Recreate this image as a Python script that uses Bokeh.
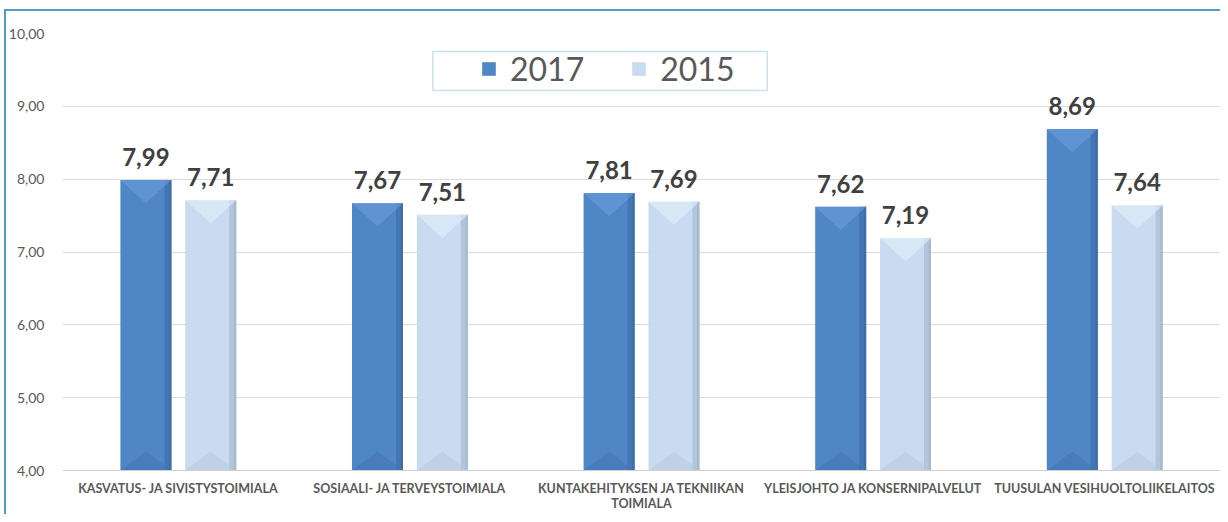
from bokeh.plotting import figure
from bokeh.models import (Range1d, FixedTicker, Legend, LegendItem, BoxAnnotation,
                          ColumnDataSource)
from bokeh.core.properties import value
from bokeh.embed import file_html
from bokeh.resources import INLINE

# ---- data ----
categories = [
    "KASVATUS- JA SIVISTYSTOIMIALA",
    "SOSIAALI- JA TERVEYSTOIMIALA",
    "KUNTAKEHITYKSEN JA TEKNIIKAN\nTOIMIALA",
    "YLEISJOHTO JA KONSERNIPALVELUT",
    "TUUSULAN VESIHUOLTOLIIKELAITOS",
]
series_names = ["2017", "2015"]
values_2017 = [7.99, 7.67, 7.81, 7.62, 8.69]
values_2015 = [7.71, 7.51, 7.69, 7.19, 7.64]
y_ticks = [4, 5, 6, 7, 8, 9, 10]
y_tick_labels = ["4,00", "5,00", "6,00", "7,00", "8,00", "9,00", "10,00"]

# ---- style ----
FONT = "Lato"
TXT = "#595959"
TEAL = "#4A9FC2"
Y0 = 4
BAR_W = 0.22
OFFS = [-0.14, 0.14]
BEVEL = 0.32
STYLES = [
    dict(main="#4F86C6", edge="#3E6DA6", top="#6B9CD9", bottom="#4171AE"),
    dict(main="#C8DBF1", edge="#A3B6CD", top="#E2EEFA", bottom="#B4C7DE"),
]

p = figure(width=1220, height=514, output_backend="svg", toolbar_location=None,
           x_range=Range1d(0, len(categories)), y_range=Range1d(4, 10),
           min_border_left=62, min_border_top=33, min_border_bottom=43,
           min_border_right=0)
p.styles = {
    "background": (f"linear-gradient({TEAL},{TEAL}) 4px 9px / 2px 600px no-repeat, "
                   f"linear-gradient({TEAL},{TEAL}) 4px 9px / 1400px 2px no-repeat, white")
}
p.outline_line_color = None
p.background_fill_color = "white"
p.border_fill_color = None

# axes
p.yaxis.ticker = FixedTicker(ticks=y_ticks)
p.yaxis.major_label_overrides = {t: l for t, l in zip(y_ticks, y_tick_labels)}
p.yaxis.axis_line_color = None
p.yaxis.major_tick_line_color = None
p.yaxis.minor_tick_line_color = None
p.yaxis.major_label_text_font = FONT
p.yaxis.major_label_text_font_size = "14px"
p.yaxis.major_label_text_color = TXT
p.yaxis.major_label_standoff = 12

centers = [i + 0.5 for i in range(len(categories))]
p.xaxis.ticker = FixedTicker(ticks=centers)
p.xaxis.major_label_overrides = {c: lab for c, lab in zip(centers, categories)}
p.xaxis.axis_line_color = "#D0D0D0"
p.xaxis.major_tick_line_color = None
p.xaxis.minor_tick_line_color = None
p.xaxis.major_tick_out = 0
p.xaxis.major_tick_in = 0
p.xaxis.major_label_text_font = FONT
p.xaxis.major_label_text_font_size = "12.5px"
p.xaxis.major_label_text_font_style = "bold"
p.xaxis.major_label_text_color = TXT
p.xaxis.major_label_text_line_height = 1.05
p.xaxis.major_label_standoff = 10

p.xgrid.grid_line_color = None
p.ygrid.grid_line_color = "#DCDCDC"
p.ygrid.ticker = FixedTicker(ticks=y_ticks[1:])

legend_items = []
for k, vals in enumerate([values_2017, values_2015]):
    st = STYLES[k]
    xs = [c + OFFS[k] for c in centers]
    src = ColumnDataSource(dict(x=xs, top=vals,
                                lab=[f"{v:.2f}".replace(".", ",") for v in vals]))
    main = p.vbar(x="x", top="top", bottom=Y0, width=BAR_W, source=src,
                  fill_color=st["main"], line_color=None)
    # right edge shading
    p.vbar(x=[x + BAR_W / 2 - 0.015 for x in xs], top=vals, bottom=Y0, width=0.03,
           fill_color=st["edge"], line_color=None, fill_alpha=0.6)
    p.vbar(x=[x + BAR_W / 2 - 0.005 for x in xs], top=vals, bottom=Y0, width=0.01,
           fill_color=st["edge"], line_color=None, fill_alpha=0.8)
    # top bevel
    p.patches(xs=[[x - BAR_W / 2, x + BAR_W / 2, x] for x in xs],
              ys=[[v, v, v - BEVEL] for v in vals],
              fill_color=st["top"], line_color=None, fill_alpha=0.6)
    # bottom bevel
    p.patches(xs=[[x - BAR_W / 2, x, x + BAR_W / 2] for x in xs],
              ys=[[Y0, Y0 + BEVEL * 0.8, Y0] for x in xs],
              fill_color=st["bottom"], line_color=None, fill_alpha=0.5)
    # value labels
    p.text(x="x", y="top", text="lab", source=src, text_align="center",
           text_baseline="alphabetic", y_offset=-23, text_font=value(FONT),
           text_font_style="bold", text_font_size="24px", text_color="#404040")
    legend_items.append(LegendItem(label=series_names[k], renderers=[main]))

box = BoxAnnotation(left=1.599, right=3.043, top=9.753, bottom=9.219,
                    fill_color="white", fill_alpha=1.0,
                    line_color=TEAL, line_width=1.5)
p.add_layout(box)

legend = Legend(items=legend_items, orientation="horizontal", location=(418, 382),
                padding=0, margin=0, spacing=46, label_standoff=13,
                glyph_width=17, glyph_height=17,
                label_text_font=FONT, label_text_font_size="32px",
                label_text_color=TXT, border_line_color=None,
                background_fill_alpha=0.0)
p.add_layout(legend, "center")

open("out.html", "w").write(file_html(p, INLINE))
